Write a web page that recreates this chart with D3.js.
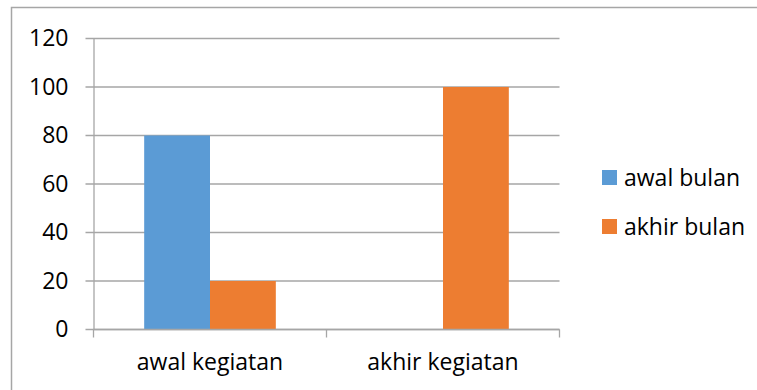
<!DOCTYPE html>
<html>
<head>
<meta charset="utf-8">
<script src="https://cdn.jsdelivr.net/npm/d3@7"></script>
<style>
  body { margin: 0; background: #fff; }
  svg { display: block; }
  text { font-family: "Open Sans", sans-serif; fill: #000; }
</style>
</head>
<body>
<svg></svg>
<script>
const width = 757;
const height = 390;

const categories = ["awal kegiatan", "akhir kegiatan"];
const seriesNames = ["awal bulan", "akhir bulan"];
const awalBulan = [80, 0];
const akhirBulan = [20, 100];
const yTicks = [0, 20, 40, 60, 80, 100, 120];
const colors = ["#5b9bd5", "#ed7d31"];

const plotLeft = 93.5, plotRight = 559.5, plotTop = 38.5, plotBottom = 329.5;
const gridColor = "#a6a6a6";
const fontSize = '23px';

const seriesValues = [awalBulan, akhirBulan];
const rows = categories.map((c, i) => ({
    cat: c,
    vals: seriesNames.map((s, j) => ({ name: s, value: seriesValues[j][i], color: colors[j] }))
}));

const svg = d3.select('svg')
    .attr('width', width)
    .attr('height', height);

// outer chart border (cropped at right/bottom)
svg.append('rect')
    .attr('x', 11.5)
    .attr('y', 7.5)
    .attr('width', width + 20)
    .attr('height', height + 20)
    .attr('fill', 'none')
    .attr('stroke', '#a6a6a6')
    .attr('stroke-width', 1.5);

let x0 = d3.scaleBand()
    .domain(categories)
    .range([plotLeft, plotRight])
    .padding(0);

let x1 = d3.scaleBand()
    .domain(seriesNames)
    .range([0, x0.bandwidth()])
    .paddingInner(0)
    .paddingOuter(0.77);

let yScale = d3.scaleLinear()
    .domain([0, 120])
    .range([plotBottom, plotTop]);

// gridlines
svg.append('g')
    .selectAll('line')
    .data(yTicks)
    .enter()
    .append('line')
        .attr('x1', plotLeft - 8)
        .attr('x2', plotRight)
        .attr('y1', d => yScale(d))
        .attr('y2', d => yScale(d))
        .attr('stroke', gridColor)
        .attr('stroke-width', 1.3);

// bars
const groups = svg.selectAll('.grp')
    .data(rows)
    .enter()
    .append('g')
        .classed('grp', true)
        .attr('transform', d => 'translate(' + x0(d.cat) + ',0)');

groups.selectAll('rect')
    .data(d => d.vals)
    .enter()
    .append('rect')
        .attr('x', d => x1(d.name))
        .attr('y', d => yScale(d.value))
        .attr('width', x1.bandwidth())
        .attr('height', d => plotBottom - yScale(d.value))
        .attr('fill', d => d.color);

// y axis
const yAxis = d3.axisLeft(yScale)
    .tickValues(yTicks)
    .tickSize(0)
    .tickPadding(25);

const gy = svg.append('g')
    .attr('transform', 'translate(' + plotLeft + ',0)')
    .call(yAxis);
gy.select('.domain').attr('stroke', gridColor).attr('stroke-width', 1.3);
gy.selectAll('text')
    .attr('font-size', fontSize)
    .attr('font-family', '"Open Sans", sans-serif')
    .attr('fill', '#000');

// x axis line + boundary ticks
svg.append('line')
    .attr('x1', plotLeft)
    .attr('x2', plotRight)
    .attr('y1', plotBottom)
    .attr('y2', plotBottom)
    .attr('stroke', gridColor)
    .attr('stroke-width', 1.3);

const bounds = categories.map(c => x0(c)).concat([x0.range()[1]]);
svg.append('g')
    .selectAll('line')
    .data(bounds)
    .enter()
    .append('line')
        .attr('x1', d => d)
        .attr('x2', d => d)
        .attr('y1', plotBottom)
        .attr('y2', plotBottom + 8)
        .attr('stroke', gridColor)
        .attr('stroke-width', 1.3);

svg.append('g')
    .selectAll('text')
    .data(categories)
    .enter()
    .append('text')
        .text(d => d)
        .attr('x', d => x0(d) + x0.bandwidth() / 2)
        .attr('y', 370)
        .attr('text-anchor', 'middle')
        .attr('font-size', fontSize);

// legend
const legend = svg.append('g')
    .selectAll('g')
    .data(seriesNames)
    .enter()
    .append('g')
        .attr('transform', (d, i) => 'translate(602,' + (170 + i * 49) + ')');

legend.append('rect')
    .attr('width', 15)
    .attr('height', 15)
    .attr('fill', (d, i) => colors[i]);

legend.append('text')
    .text(d => d)
    .attr('x', 22)
    .attr('y', 16)
    .attr('font-size', fontSize);
</script>
</body>
</html>
